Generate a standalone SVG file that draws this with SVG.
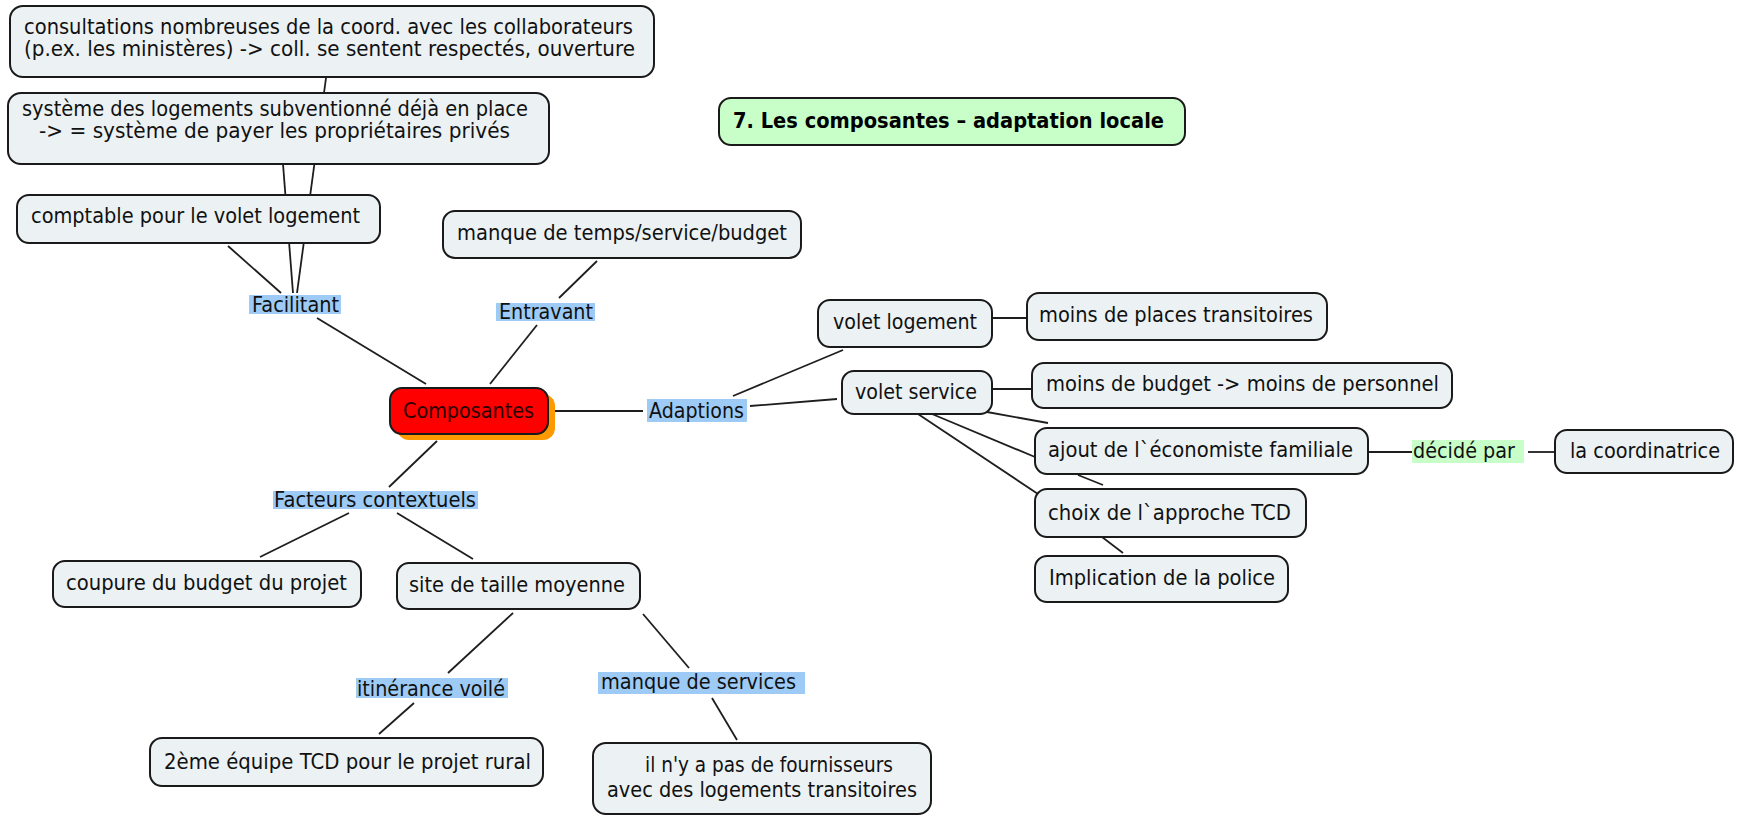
<svg xmlns="http://www.w3.org/2000/svg" width="1737" height="817" viewBox="0 0 1737 817">
<style>
.box{fill:#ECF2F4;stroke:#1a1a1a;stroke-width:2}
.t{font-family:"DejaVu Sans","Liberation Sans",sans-serif;font-size:21px;fill:#111}
.tb{font-family:"DejaVu Sans","Liberation Sans",sans-serif;font-size:21px;font-weight:bold;fill:#000}
.lb{fill:#9DCBF6}
.lg{fill:#C8FFC8}
#connectors line{stroke:#1e1e1e;stroke-width:1.8;fill:none}
</style>
<rect width="1737" height="817" fill="#fff"/>
<g id="connectors">
<line x1="326" y1="78" x2="297" y2="293"/>
<line x1="283" y1="164" x2="293" y2="293"/>
<line x1="228" y1="246" x2="281" y2="293"/>
<line x1="317" y1="318" x2="426" y2="384"/>
<line x1="490" y1="384" x2="537" y2="325"/>
<line x1="559" y1="298" x2="597" y2="261"/>
<line x1="555" y1="411" x2="643" y2="411"/>
<line x1="733" y1="396" x2="843" y2="350"/>
<line x1="750" y1="406" x2="837" y2="399"/>
<line x1="992" y1="318" x2="1027" y2="318"/>
<line x1="992" y1="389" x2="1032" y2="389"/>
<line x1="987" y1="412" x2="1048" y2="423"/>
<line x1="932" y1="414" x2="1035" y2="457"/>
<line x1="918" y1="414" x2="1038" y2="494"/>
<line x1="1078" y1="475" x2="1103" y2="485"/>
<line x1="1102" y1="537" x2="1123" y2="553"/>
<line x1="1368" y1="452" x2="1412" y2="452"/>
<line x1="1528" y1="452" x2="1555" y2="452"/>
<line x1="437" y1="441" x2="389" y2="487"/>
<line x1="349" y1="513" x2="260" y2="557"/>
<line x1="397" y1="513" x2="473" y2="559"/>
<line x1="513" y1="613" x2="448" y2="673"/>
<line x1="414" y1="703" x2="379" y2="734"/>
<line x1="643" y1="614" x2="689" y2="668"/>
<line x1="712" y1="698" x2="737" y2="740"/>
</g>
<g id="n-consultations">
<rect class="box" x="10" y="6" width="644" height="71" rx="13"/>
<text class="t" x="24" y="34" textLength="609" lengthAdjust="spacingAndGlyphs">consultations nombreuses de la coord. avec les collaborateurs</text>
<text class="t" x="24" y="56" textLength="611" lengthAdjust="spacingAndGlyphs">(p.ex. les ministères) -&gt; coll. se sentent respectés, ouverture</text>
</g>
<g id="n-systeme">
<rect class="box" x="8" y="93" width="541" height="71" rx="13"/>
<text class="t" x="22" y="116" textLength="506" lengthAdjust="spacingAndGlyphs">système des logements subventionné déjà en place</text>
<text class="t" x="39" y="138" textLength="471" lengthAdjust="spacingAndGlyphs">-&gt; = système de payer les propriétaires privés</text>
</g>
<g id="n-comptable">
<rect class="box" x="17" y="195" width="363" height="48" rx="12"/>
<text class="t" x="31" y="223" textLength="329" lengthAdjust="spacingAndGlyphs">comptable pour le volet logement</text>
</g>
<g id="n-manque-temps">
<rect class="box" x="443" y="211" width="358" height="47" rx="12"/>
<text class="t" x="457" y="240" textLength="330" lengthAdjust="spacingAndGlyphs">manque de temps/service/budget</text>
</g>
<g id="n-title">
<rect x="719" y="98" width="466" height="47" rx="12" fill="#C8FFC8" stroke="#1a1a1a" stroke-width="2"/>
<text class="tb" x="733" y="128" textLength="431" lengthAdjust="spacingAndGlyphs">7. Les composantes – adaptation locale</text>
</g>
<g id="n-composantes">
<rect x="397" y="394" width="158" height="46" rx="12" fill="#FF9900"/>
<rect x="390" y="388" width="158" height="46" rx="12" fill="#FF0000" stroke="#1a1a1a" stroke-width="2"/>
<text class="t" x="403" y="418" textLength="131" lengthAdjust="spacingAndGlyphs" style="fill:#2a0000">Composantes</text>
</g>
<g id="l-facilitant">
<rect class="lb" x="249" y="295" width="92" height="19"/>
<text class="t" x="252" y="312" textLength="87" lengthAdjust="spacingAndGlyphs">Facilitant</text>
</g>
<g id="l-entravant">
<rect class="lb" x="496" y="303" width="99" height="18"/>
<text class="t" x="499" y="319" textLength="94" lengthAdjust="spacingAndGlyphs">Entravant</text>
</g>
<g id="l-adaptions">
<rect class="lb" x="647" y="399" width="100" height="23"/>
<text class="t" x="649" y="418" textLength="95" lengthAdjust="spacingAndGlyphs">Adaptions</text>
</g>
<g id="l-facteurs">
<rect class="lb" x="273" y="491" width="205" height="18"/>
<text class="t" x="274" y="507" textLength="202" lengthAdjust="spacingAndGlyphs">Facteurs contextuels</text>
</g>
<g id="l-itinerance">
<rect class="lb" x="356" y="678" width="152" height="20"/>
<text class="t" x="357" y="696" textLength="148" lengthAdjust="spacingAndGlyphs">itinérance voilé</text>
</g>
<g id="l-manque-services">
<rect class="lb" x="598" y="672" width="207" height="22"/>
<text class="t" x="601" y="689" textLength="195" lengthAdjust="spacingAndGlyphs">manque de services</text>
</g>
<g id="l-decide">
<rect class="lg" x="1412" y="440" width="112" height="23"/>
<text class="t" x="1413" y="458" textLength="102" lengthAdjust="spacingAndGlyphs">décidé par</text>
</g>
<g id="n-volet-logement">
<rect class="box" x="818" y="300" width="174" height="47" rx="12"/>
<text class="t" x="833" y="329" textLength="144" lengthAdjust="spacingAndGlyphs">volet logement</text>
</g>
<g id="n-volet-service">
<rect class="box" x="842" y="371" width="150" height="43" rx="12"/>
<text class="t" x="855" y="399" textLength="122" lengthAdjust="spacingAndGlyphs">volet service</text>
</g>
<g id="n-moins-places">
<rect class="box" x="1027" y="293" width="300" height="47" rx="12"/>
<text class="t" x="1039" y="322" textLength="274" lengthAdjust="spacingAndGlyphs">moins de places transitoires</text>
</g>
<g id="n-moins-budget">
<rect class="box" x="1032" y="363" width="420" height="45" rx="12"/>
<text class="t" x="1046" y="391" textLength="393" lengthAdjust="spacingAndGlyphs">moins de budget -&gt; moins de personnel</text>
</g>
<g id="n-ajout">
<rect class="box" x="1035" y="428" width="333" height="46" rx="12"/>
<text class="t" x="1048" y="457" textLength="305" lengthAdjust="spacingAndGlyphs">ajout de l`économiste familiale</text>
</g>
<g id="n-choix">
<rect class="box" x="1035" y="489" width="271" height="48" rx="12"/>
<text class="t" x="1048" y="520" textLength="243" lengthAdjust="spacingAndGlyphs">choix de l`approche TCD</text>
</g>
<g id="n-police">
<rect class="box" x="1035" y="556" width="253" height="46" rx="12"/>
<text class="t" x="1049" y="585" textLength="226" lengthAdjust="spacingAndGlyphs">Implication de la police</text>
</g>
<g id="n-coordinatrice">
<rect class="box" x="1555" y="430" width="178" height="43" rx="12"/>
<text class="t" x="1570" y="458" textLength="150" lengthAdjust="spacingAndGlyphs">la coordinatrice</text>
</g>
<g id="n-coupure">
<rect class="box" x="53" y="561" width="308" height="46" rx="12"/>
<text class="t" x="66" y="590" textLength="281" lengthAdjust="spacingAndGlyphs">coupure du budget du projet</text>
</g>
<g id="n-site">
<rect class="box" x="397" y="563" width="243" height="46" rx="12"/>
<text class="t" x="409" y="592" textLength="216" lengthAdjust="spacingAndGlyphs">site de taille moyenne</text>
</g>
<g id="n-equipe">
<rect class="box" x="150" y="738" width="393" height="48" rx="12"/>
<text class="t" x="164" y="769" textLength="367" lengthAdjust="spacingAndGlyphs">2ème équipe TCD pour le projet rural</text>
</g>
<g id="n-fournisseurs">
<rect class="box" x="593" y="743" width="338" height="71" rx="13"/>
<text class="t" x="645" y="772" textLength="248" lengthAdjust="spacingAndGlyphs">il n'y a pas de fournisseurs</text>
<text class="t" x="607" y="797" textLength="310" lengthAdjust="spacingAndGlyphs">avec des logements transitoires</text>
</g>
</svg>
